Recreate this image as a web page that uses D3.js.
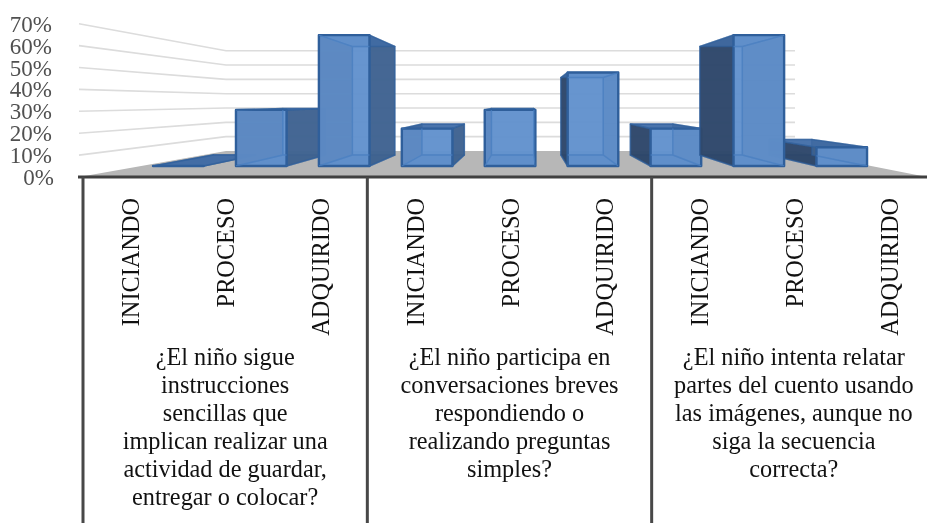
<!DOCTYPE html>
<html>
<head>
<meta charset="utf-8">
<script src="https://cdn.jsdelivr.net/npm/d3@7"></script>
<style>
  html, body { margin:0; padding:0; background:#fff; }
  svg { display:block; filter:blur(0.35px); }
  text { font-family:"Liberation Serif", serif; }
</style>
</head>
<body>
<svg></svg>
<script>
var barLabels = ["INICIANDO","PROCESO","ADQUIRIDO","INICIANDO","PROCESO","ADQUIRIDO","INICIANDO","PROCESO","ADQUIRIDO"];
var barValues = [0,30,70,20,30,50,20,70,10];
var yTicks = [0,10,20,30,40,50,60,70];
var questions = [
  ["¿El niño sigue","instrucciones","sencillas que","implican realizar una","actividad de guardar,","entregar o colocar?"],
  ["¿El niño participa en","conversaciones breves","respondiendo o","realizando preguntas","simples?"],
  ["¿El niño intenta relatar","partes del cuento usando","las imágenes, aunque no","siga la secuencia","correcta?"]
];

var screen = { width:927, height:523 };

var svg = d3.select("svg")
            .attr("width", screen.width)
            .attr("height", screen.height);

// depth goes 0 (front of floor) to 1 (back wall)
var floorY = d3.scaleLinear().domain([0, 1]).range([177, 151]);
var unitH = d3.scaleLinear().domain([0, 1]).range([21.9, 14.33]);
var backX = d3.scaleLinear().domain([79, 927]).range([226, 795]);

var project = function(u, v, t){
  return [u + (backX(u) - u) * t, floorY(t) - unitH(t) * v / 10];
};
var line = function(pts){
  return "M" + pts.map(function(p){ return p.join(","); }).join("L") + "Z";
};

var barX = d3.scaleBand()
             .domain(d3.range(9))
             .range([74, 941])
             .paddingInner(0.39)
             .paddingOuter(0.195);
var labelX = d3.scaleBand()
               .domain(d3.range(9))
               .range([83, 936]);

// floor
svg.append("path")
   .attr("d", line([project(79,0,0), project(927,0,0), project(927,0,1), project(79,0,1)]))
   .attr("fill", "#b7b7b7");

// gridlines on the side wall and the back wall
yTicks.slice(1).forEach(function(v){
  svg.append("polyline")
     .attr("points", [project(79,v,0), project(79,v,1), project(927,v,1)].map(String).join(" "))
     .attr("fill", "none")
     .attr("stroke", "#dcdcdc")
     .attr("stroke-width", 1.6);
});

// y labels
svg.selectAll(".ytick")
   .data(yTicks)
   .enter()
   .append("text")
   .classed("ytick", true)
   .attr("x", function(d){ return d == 0 ? 54 : 52; })
   .attr("y", function(d){ return project(79, d, 0)[1] + 8; })
   .attr("text-anchor", "end")
   .attr("font-size", 23)
   .attr("fill", "#505050")
   .text(function(d){ return d + "%"; });

// bars, bar 8 goes last because it sits over the side of bar 9
var tF = 0.423, tB = 0.846;
var order = [0,1,2,3,4,5,6,8,7];
var frontPts = function(a,b,v){ return [project(a,0,tF),project(b,0,tF),project(b,v,tF),project(a,v,tF)]; };

var bars = svg.selectAll(".bar")
              .data(order)
              .enter()
              .append("g")
              .classed("bar", true);

var faces = [
  { name:"back", fill:"#5b8ac6", op:0.7, pts:function(a,b,v){ return [project(a,0,tB),project(b,0,tB),project(b,v,tB),project(a,v,tB)]; } },
  { name:"bottom", fill:"#3f6ba5", op:0.8, pts:function(a,b,v){ return [project(a,0,tF),project(b,0,tF),project(b,0,tB),project(a,0,tB)]; } },
  { name:"left", fill:"#2c4466", op:0.92, pts:function(a,b,v){ return [project(a,0,tF),project(a,0,tB),project(a,v,tB),project(a,v,tF)]; } },
  { name:"right", fill:"#3f628e", op:0.92, pts:function(a,b,v){ return [project(b,0,tF),project(b,0,tB),project(b,v,tB),project(b,v,tF)]; } },
  { name:"top", fill:"#3f6ba5", op:0.85, pts:function(a,b,v){ return [project(a,v,tF),project(b,v,tF),project(b,v,tB),project(a,v,tB)]; } },
  { name:"front", fill:"#6292ce", op:0.88, pts:frontPts }
];

faces.forEach(function(f){
  bars.append("path")
      .attr("d", function(i){
        var a = barX(i), b = a + barX.bandwidth();
        return line(f.pts(a, b, barValues[i]));
      })
      .attr("fill", f.fill)
      .attr("fill-opacity", f.op)
      .attr("stroke", "#2f5f9b")
      .attr("stroke-opacity", f.name == "front" ? 1 : 0.6)
      .attr("stroke-width", f.name == "front" ? 2.4 : 1.6)
      .attr("stroke-linejoin", "round");
});

// hidden edges show through the front face only
var defs = svg.append("defs");
order.forEach(function(i){
  var a = barX(i), b = a + barX.bandwidth();
  defs.append("clipPath")
      .attr("id", "front" + i)
      .append("path")
      .attr("d", line(frontPts(a, b, barValues[i])));
});

bars.append("path")
    .attr("clip-path", function(i){ return "url(#front" + i + ")"; })
    .attr("d", function(i){
      var a = barX(i), b = a + barX.bandwidth(), v = barValues[i];
      return "M" + project(a,v,tF) + "L" + project(a,v,tB) + "L" + project(b,v,tB) + "L" + project(b,0,tB) + "L" + project(a,0,tB) + "L" + project(a,v,tB)
           + "M" + project(a,0,tF) + "L" + project(a,0,tB) + "M" + project(b,0,tF) + "L" + project(b,0,tB) + "M" + project(b,v,tF) + "L" + project(b,v,tB);
    })
    .attr("fill", "none")
    .attr("stroke", "#4a7fc0")
    .attr("stroke-opacity", 0.75)
    .attr("stroke-width", 1.4);

// axis line and group dividers
svg.append("line")
   .attr("x1", 78).attr("x2", 927)
   .attr("y1", 177).attr("y2", 177)
   .attr("stroke", "#404040")
   .attr("stroke-width", 3);

[0,3,6].forEach(function(i){
  svg.append("line")
     .attr("x1", labelX(i)).attr("x2", labelX(i))
     .attr("y1", 177).attr("y2", 523)
     .attr("stroke", "#484848")
     .attr("stroke-width", 3);
});

// rotated category labels
svg.selectAll(".cat")
   .data(barLabels)
   .enter()
   .append("text")
   .classed("cat", true)
   .attr("transform", function(d, i){
     return "translate(" + (labelX(i) + labelX.bandwidth() / 2 + 9) + ",198) rotate(-90)";
   })
   .attr("text-anchor", "end")
   .attr("font-size", 24.3)
   .attr("fill", "#111")
   .text(function(d){ return d; });

// question text
questions.forEach(function(q, k){
  var cx = labelX(k * 3) + labelX.step() * 1.5;
  svg.selectAll(".q" + k)
     .data(q)
     .enter()
     .append("text")
     .classed("q" + k, true)
     .attr("x", cx)
     .attr("y", function(d, i){ return 365 + i * 28; })
     .attr("text-anchor", "middle")
     .attr("font-size", 24.3)
     .attr("fill", "#111")
     .text(function(d){ return d; });
});
</script>
</body>
</html>
